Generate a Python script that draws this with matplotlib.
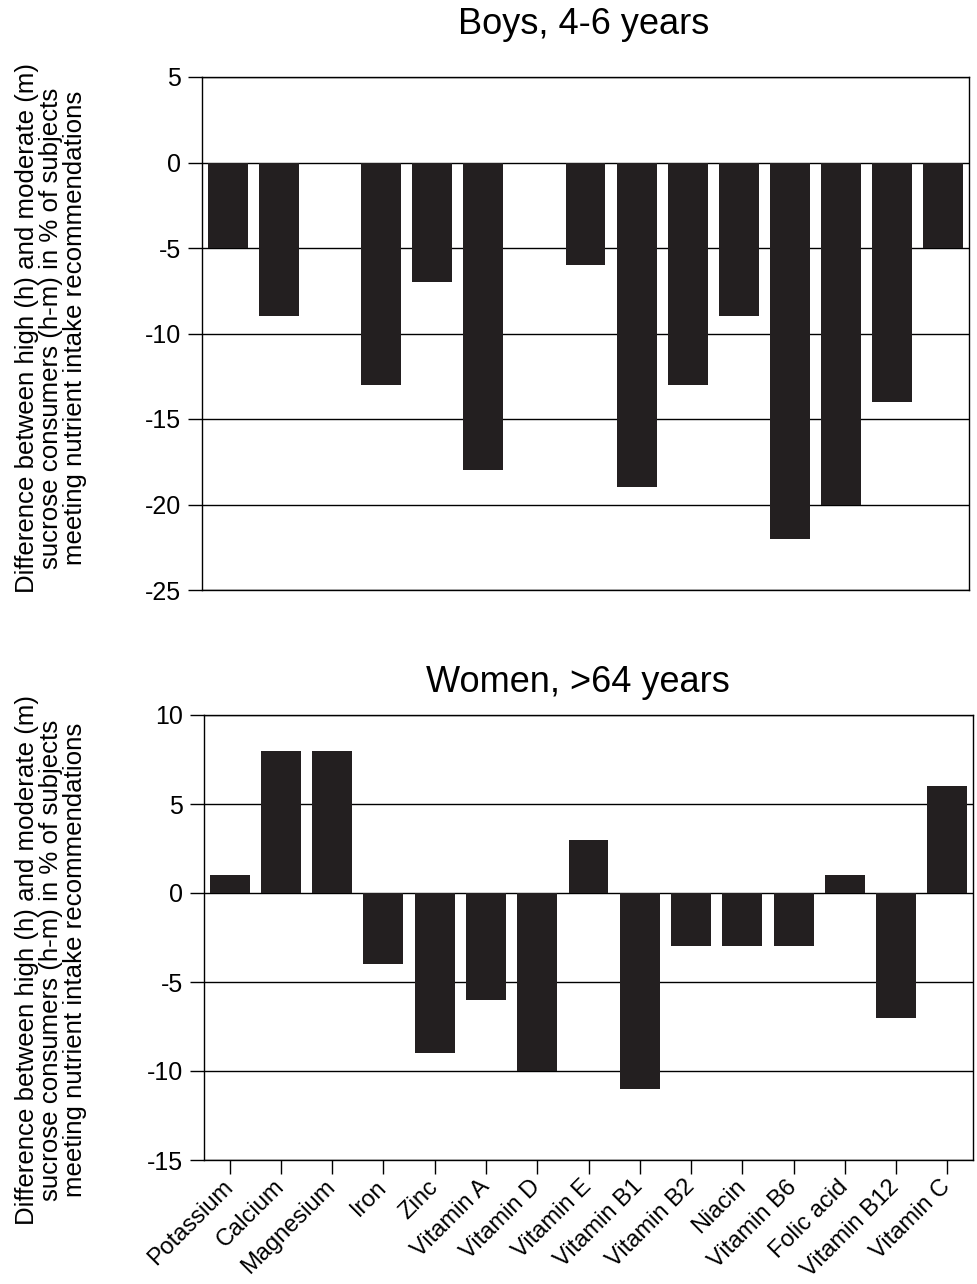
import matplotlib.pyplot as plt
import numpy as np

plt.rcParams['font.family'] = ['Liberation Sans', 'DejaVu Sans']
plt.rcParams['axes.unicode_minus'] = False

nutrients = ['Potassium', 'Calcium', 'Magnesium', 'Iron', 'Zinc', 'Vitamin A',
             'Vitamin D', 'Vitamin E', 'Vitamin B1', 'Vitamin B2', 'Niacin',
             'Vitamin B6', 'Folic acid', 'Vitamin B12', 'Vitamin C']

# difference (h-m) in % of subjects meeting recommendations
boys_4_6 = [-5, -9, 0, -13, -7, -18, 0, -6, -19, -13, -9, -22, -20, -14, -5]
women_64 = [1, 8, 8, -4, -9, -6, -10, 3, -11, -3, -3, -3, 1, -7, 6]

ylab = ('Difference between high (h) and moderate (m)\n'
        'sucrose consumers (h-m) in % of subjects\n'
        'meeting nutrient intake recommendations')

bar_col = '#231f20'
W, H = 977, 1284
fig = plt.figure(figsize=(W / 100, H / 100), dpi=100)

ax1 = fig.add_axes([202 / W, 1 - 590 / H, (969 - 202) / W, (590 - 77) / H])
ax2 = fig.add_axes([204 / W, 1 - 1160 / H, (973 - 204) / W, (1160 - 715) / H])

x = np.arange(len(nutrients))

for ax, vals, ylim, step in [(ax1, boys_4_6, (-25, 5), 5), (ax2, women_64, (-15, 10), 5)]:
    ax.bar(x, vals, width=0.78, color=bar_col, zorder=3)
    ax.set_xlim(-0.5, len(nutrients) - 0.5)
    ax.set_ylim(*ylim)
    ax.set_yticks(np.arange(ylim[0], ylim[1] + 1, step))
    ax.yaxis.grid(True, color='black', linewidth=1)
    ax.set_axisbelow(True)
    for s in ax.spines.values():
        s.set_linewidth(1)
        s.set_color('black')
    ax.tick_params(axis='y', direction='out', length=10, width=1, labelsize=18, pad=5)

ax1.tick_params(axis='x', bottom=False, labelbottom=False)
ax2.set_xticks(x)
ax2.set_xticklabels(nutrients, rotation=45, ha='right', va='center',
                    rotation_mode='anchor')
ax2.tick_params(axis='x', direction='out', length=10, width=1, labelsize=17, pad=7)

fig.text(584 / W, 1 - 25 / H, 'Boys, 4-6 years', ha='center', va='center', fontsize=26)
fig.text(578 / W, 1 - 682 / H, 'Women, >64 years', ha='center', va='center', fontsize=26)

fig.text(51 / W, 1 - 328 / H, ylab, rotation=90, ha='center', va='center',
         fontsize=18.6, linespacing=1.02, multialignment='center')
fig.text(51 / W, 1 - 960 / H, ylab, rotation=90, ha='center', va='center',
         fontsize=18.6, linespacing=1.02, multialignment='center')

plt.savefig('out.png', dpi=100)
